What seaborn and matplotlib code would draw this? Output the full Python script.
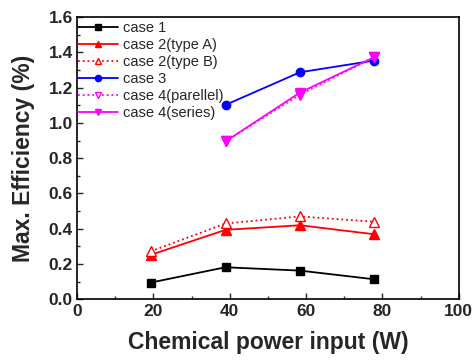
import matplotlib
matplotlib.use("Agg")
import matplotlib.pyplot as plt
import seaborn as sns
import pandas as pd
from matplotlib.ticker import MultipleLocator

sns.set_style("ticks")
plt.rcParams['font.family'] = ['Liberation Sans', 'DejaVu Sans']

x4 = [19.3, 38.9, 58.4, 77.8]
x3 = [38.9, 58.4, 77.8]
case1 = [0.095, 0.182, 0.163, 0.114]
case2a = [0.252, 0.394, 0.420, 0.369]
case2b = [0.272, 0.430, 0.470, 0.440]
case3 = [1.102, 1.287, 1.353]
case4p = [0.895, 1.160, 1.372]
case4s = [0.895, 1.172, 1.372]

series = [
    ("case 1", x4, case1, "black", "-", "s", True, 5.5),
    ("case 2(type A)", x4, case2a, "red", "-", "^", True, 6.5),
    ("case 2(type B)", x4, case2b, "red", ":", "^", False, 6.5),
    ("case 3", x3, case3, "blue", "-", "o", True, 6),
    ("case 4(parellel)", x3, case4p, "magenta", ":", "v", False, 6.5),
    ("case 4(series)", x3, case4s, "magenta", "-", "v", True, 6.5),
]

fig = plt.figure(figsize=(4.75, 3.62), dpi=100)
ax = fig.add_axes([0.162, 0.173, 0.804, 0.780])

for name, xs, ys, col, ls, mk, filled, ms in series:
    df = pd.DataFrame({"x": xs, "y": ys})
    sns.lineplot(data=df, x="x", y="y", ax=ax, color=col, linestyle=ls,
                 marker=mk, markersize=ms,
                 markerfacecolor=col if filled else "white",
                 markeredgecolor=col, markeredgewidth=1.0,
                 linewidth=1.3, label=name)

ax.set_xlim(0, 100)
ax.set_ylim(0, 1.6)
ax.xaxis.set_major_locator(MultipleLocator(20))
ax.xaxis.set_minor_locator(MultipleLocator(10))
ax.yaxis.set_minor_locator(MultipleLocator(0.1))
ax.set_yticks([0, 0.2, 0.4, 0.6, 0.8, 1.0, 1.2, 1.4, 1.6])
ax.set_yticklabels(["0.0", "0.2", "0.4", "0.6", "0.8", "1.0", "1.2", "1.4", "1.6"])
ax.tick_params(axis="both", which="major", direction="in", length=4, width=1,
               labelsize=12.5, pad=3)
ax.tick_params(axis="both", which="minor", direction="in", length=2.5, width=1)
for lab in ax.get_xticklabels() + ax.get_yticklabels():
    lab.set_fontweight("bold")
for sp in ax.spines.values():
    sp.set_visible(True)
    sp.set_linewidth(1.2)
    sp.set_color("black")

ax.set_xlabel("Chemical power input (W)", fontsize=16.5, fontweight="bold", labelpad=9)
ax.set_ylabel("Max. Efficiency (%)", fontsize=16.5, fontweight="bold", labelpad=10)

leg = ax.legend(loc="upper left", frameon=False, fontsize=10.5, handlelength=2.8,
                handletextpad=0.3, labelspacing=0.2, borderaxespad=0.1,
                borderpad=0.2, markerscale=0.75, bbox_to_anchor=(-0.01, 1.0))

fig.savefig("out.png", dpi=100)
